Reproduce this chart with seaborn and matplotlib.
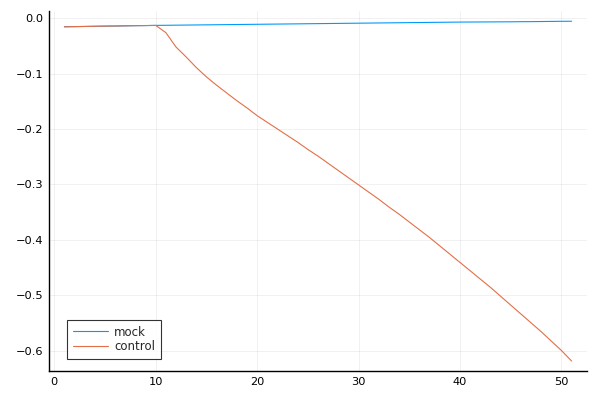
import matplotlib
matplotlib.use("Agg")
import matplotlib.pyplot as plt
import pandas as pd
import seaborn as sns

steps = list(range(1, 52))
mock = [
    -0.0155, -0.0152, -0.0149, -0.0146, -0.0143, -0.0141, -0.0138, -0.0135, -0.0133, -0.0130,
    -0.0128, -0.0126, -0.0124, -0.0122, -0.0120, -0.0118, -0.0116, -0.0114, -0.0112, -0.0110,
    -0.0108, -0.0106, -0.0104, -0.0102, -0.0100, -0.0098, -0.0096, -0.0094, -0.0092, -0.0090,
    -0.0088, -0.0086, -0.0084, -0.0082, -0.0080, -0.0078, -0.0076, -0.0074, -0.0072, -0.0070,
    -0.0069, -0.0068, -0.0067, -0.0066, -0.0065, -0.0063, -0.0062, -0.0060, -0.0058, -0.0056,
    -0.0055,
]
control = [
    -0.0155, -0.0152, -0.0149, -0.0146, -0.0143, -0.0141, -0.0138, -0.0135, -0.0133, -0.0130,
    -0.026, -0.052, -0.070, -0.089, -0.106, -0.121, -0.135, -0.149, -0.162, -0.176,
    -0.188, -0.200, -0.212, -0.224, -0.237, -0.249, -0.262, -0.275, -0.288, -0.301,
    -0.314, -0.327, -0.341, -0.354, -0.368, -0.382, -0.396, -0.411, -0.426, -0.441,
    -0.456, -0.471, -0.486, -0.502, -0.518, -0.534, -0.550, -0.566, -0.583, -0.600,
    -0.619,
]
labels = ["mock", "control"]
colors = ["#009AFA", "#E36F47"]

df = pd.concat([
    pd.DataFrame({"step": steps, "value": mock, "series": labels[0]}),
    pd.DataFrame({"step": steps, "value": control, "series": labels[1]}),
])

sns.set_theme(style="white")
plt.rcParams["font.family"] = ["DejaVu Sans"]

fig = plt.figure(figsize=(6, 4), dpi=100)
ax = fig.add_axes([0.082, 0.0725, 0.896, 0.9])

sns.lineplot(data=df, x="step", y="value", hue="series", palette=colors,
             linewidth=0.8, ax=ax)

ax.set_xlim(-0.5, 52.5)
ax.set_ylim(-0.637, 0.013)
ax.set_xticks([0, 10, 20, 30, 40, 50])
ax.set_yticks([0.0, -0.1, -0.2, -0.3, -0.4, -0.5, -0.6])
ax.set_yticklabels(["0.0", "\u22120.1", "\u22120.2", "\u22120.3", "\u22120.4", "\u22120.5", "\u22120.6"])
ax.set_xlabel("")
ax.set_ylabel("")
ax.grid(True, color="#000000", alpha=0.08, linewidth=0.5)

for side in ["top", "right"]:
    ax.spines[side].set_visible(False)
for side in ["left", "bottom"]:
    ax.spines[side].set_color("black")
    ax.spines[side].set_linewidth(1)
ax.tick_params(direction="in", length=4, width=0.8, color="black",
               labelsize=8.2, labelcolor="black", pad=4)

leg = ax.legend(loc="lower left", bbox_to_anchor=(0.033, 0.0325), borderaxespad=0,
                fontsize=8.5, frameon=True, fancybox=False, handlelength=3.0,
                handletextpad=0.5, borderpad=0.5, labelspacing=0.16)
leg.get_frame().set_edgecolor("black")
leg.get_frame().set_linewidth(0.8)

fig.savefig("out.png", dpi=100)
